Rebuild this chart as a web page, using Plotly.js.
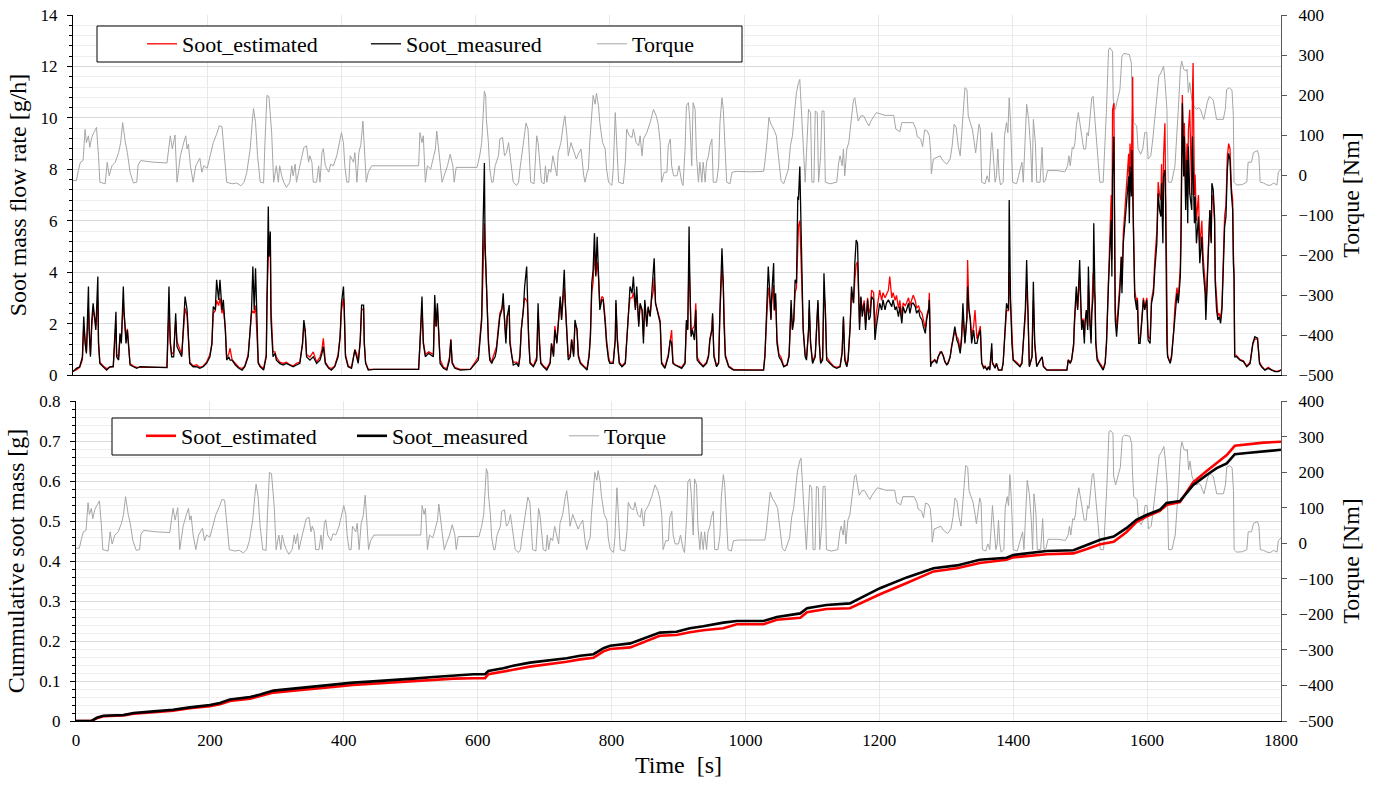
<!DOCTYPE html>
<html><head><meta charset="utf-8">
<script src="https://cdn.plot.ly/plotly-3.0.1.min.js"></script>
<style>html,body{margin:0;padding:0;background:#fff}#chart{width:1374px;height:791px}</style>
</head><body><div id="chart"></div>
<script>
// ---- Soot mass flow rate [g/h] (top panel) ----
const tRate = [
0,5,10,14,16,18,20,23,24,26,
28,30,32,34,37,38,40,45,50,55,
60,64,65,68,70,72,75,76,79,81,
83,85,90,95,100,120,140,143,145,147,
150,153,155,162,165,167,170,172,174,179,
184,189,194,199,204,207,209,212,214,217,
219,222,224,227,229,232,234,237,242,247,
252,256,261,264,266,268,270,272,274,276,
279,284,288,289,291,292,294,295,298,301,
303,308,313,318,323,328,333,338,342,344,
346,348,353,358,363,368,371,373,376,381,
385,390,395,398,400,403,404,406,410,415,
420,423,425,428,430,433,434,436,440,448,
480,515,517,520,522,525,530,537,539,541,
543,545,547,552,557,561,563,565,569,577,
592,604,606,609,611,613,614,616,617,619,
621,624,626,629,631,634,636,639,641,643,
645,647,650,651,654,656,661,664,666,668,
671,673,676,677,679,681,686,691,693,695,
697,701,706,711,713,716,718,721,723,726,
728,731,732,734,736,738,741,743,746,748,
751,753,756,761,766,769,771,773,775,777,
779,781,783,785,788,790,793,795,798,800,
805,808,809,811,814,818,823,825,828,830,
833,835,838,840,843,845,848,850,852,855,
857,860,862,865,866,868,870,872,875,877,
882,887,890,892,894,897,902,907,912,914,
916,918,919,921,923,926,928,930,934,939,
944,947,949,952,953,955,959,962,964,966,
967,969,970,972,977,984,1009,1029,1031,1034,
1036,1038,1040,1041,1044,1045,1047,1049,1052,1055,
1059,1064,1067,1070,1072,1074,1076,1078,1080,1081,
1083,1085,1086,1088,1091,1093,1096,1097,1099,1102,
1106,1108,1110,1112,1114,1117,1119,1121,1123,1128,
1133,1138,1143,1146,1148,1150,1153,1155,1158,1160,
1163,1165,1167,1169,1170,1172,1174,1176,1179,1181,
1184,1186,1188,1190,1193,1195,1197,1200,1202,1205,
1207,1210,1212,1215,1217,1220,1222,1225,1227,1230,
1232,1235,1237,1240,1242,1245,1247,1250,1252,1255,
1257,1260,1262,1265,1267,1270,1272,1275,1276,1278,
1279,1282,1284,1287,1289,1292,1294,1297,1299,1302,
1304,1307,1309,1312,1314,1317,1319,1322,1324,1326,
1328,1329,1332,1333,1335,1337,1339,1342,1344,1347,
1349,1352,1354,1357,1359,1362,1364,1366,1369,1370,
1374,1376,1379,1384,1386,1389,1391,1394,1395,1397,
1399,1401,1406,1411,1414,1416,1419,1421,1423,1425,
1429,1431,1433,1436,1441,1444,1446,1451,1466,1481,
1483,1486,1488,1491,1492,1494,1495,1497,1498,1500,
1502,1503,1505,1507,1508,1510,1512,1513,1515,1517,
1518,1520,1521,1523,1524,1526,1529,1533,1535,1538,
1540,1543,1545,1547,1548,1549,1551,1552,1553,1555,
1558,1560,1562,1563,1565,1568,1570,1573,1574,1575,
1577,1578,1579,1580,1582,1585,1586,1588,1590,1592,
1595,1597,1600,1602,1605,1607,1610,1612,1615,1617,
1619,1621,1622,1624,1625,1627,1628,1630,1631,1633,
1635,1637,1640,1642,1645,1647,1650,1651,1653,1655,
1656,1658,1660,1661,1662,1664,1667,1668,1669,1671,
1672,1674,1677,1679,1682,1684,1687,1688,1690,1692,
1694,1696,1697,1699,1701,1702,1704,1706,1708,1710,
1712,1714,1716,1718,1720,1722,1724,1726,1728,1729,
1730,1731,1734,1739,1744,1749,1754,1758,1761,1765,
1768,1771,1776,1781,1786,1791,1796,1800];
const rateMeas = [
0.13,0.26,0.32,0.70,2.27,1.23,0.84,3.44,1.75,0.71,
2.14,2.79,2.27,1.75,3.83,1.23,0.45,0.32,0.19,0.32,
0.32,2.46,0.71,0.58,1.62,1.23,3.44,2.53,1.23,1.75,
0.84,0.39,0.32,0.26,0.32,0.30,0.29,3.44,1.23,0.71,
0.71,2.40,1.10,0.71,2.14,3.05,2.53,1.23,0.45,0.32,
0.32,0.26,0.32,0.45,0.71,1.23,2.66,2.53,3.70,2.92,
3.70,2.53,2.92,1.75,0.58,0.71,0.58,0.58,0.39,0.26,
0.19,0.32,0.71,1.75,2.53,4.22,2.53,4.15,1.62,0.45,
0.32,0.19,0.71,3.57,6.55,4.60,5.58,2.14,0.71,0.84,
0.58,0.45,0.39,0.45,0.39,0.32,0.39,0.45,1.23,2.14,
1.75,0.71,0.58,0.71,0.45,0.58,0.84,1.10,0.45,0.26,
0.19,0.32,0.71,1.49,2.79,3.44,2.79,0.71,0.32,0.26,
0.97,0.71,0.45,1.36,2.72,2.72,1.23,0.45,0.19,0.22,
0.22,0.22,1.23,3.05,1.23,0.71,0.84,0.71,3.11,1.88,
2.79,1.36,0.45,0.26,0.19,0.58,1.36,0.45,0.26,0.19,
0.22,0.58,1.23,2.14,5.77,8.24,5.12,3.44,2.01,1.23,
0.58,0.45,0.58,0.71,0.97,1.75,2.27,2.53,3.18,2.14,
1.23,2.27,2.72,1.23,0.58,0.39,0.45,0.32,0.71,1.75,
2.53,3.44,4.22,3.05,1.36,0.45,0.32,0.58,2.79,1.23,
0.45,0.32,0.19,0.45,1.23,0.71,1.75,1.23,2.14,3.05,
2.14,3.83,4.09,2.53,1.23,0.58,0.71,1.36,0.71,2.14,
1.75,0.71,0.45,0.32,0.19,0.71,1.49,3.57,4.09,5.51,
3.83,5.38,3.83,2.53,2.92,2.92,2.01,1.23,0.58,0.45,
0.45,1.36,2.92,1.36,0.45,0.32,0.45,1.49,2.53,3.44,
3.18,3.83,2.53,3.44,1.88,2.79,2.53,1.23,2.92,1.88,
2.66,2.27,3.05,3.83,4.54,2.79,2.53,2.40,2.01,0.45,
0.26,0.71,1.36,1.23,0.45,0.39,0.32,0.26,0.45,2.14,
1.75,5.77,3.83,1.49,1.75,1.36,2.53,0.58,0.45,0.32,
0.45,0.71,1.36,1.75,2.40,0.71,0.32,0.45,2.53,3.83,
4.93,3.57,2.01,0.71,0.32,0.19,0.19,0.19,0.71,2.53,
4.22,3.31,2.14,3.05,4.35,2.53,3.18,1.23,0.71,0.58,
0.32,0.39,0.71,2.92,1.75,2.14,3.70,3.57,6.94,6.81,
8.11,4.86,3.83,1.75,0.71,0.58,1.75,2.92,1.23,0.45,
0.71,2.01,2.92,1.23,0.45,0.58,3.96,2.53,0.58,0.45,
0.32,0.26,0.32,0.84,2.27,0.58,0.32,0.58,1.88,3.44,
2.79,4.35,5.25,5.12,3.83,1.75,3.05,2.27,2.79,1.75,
2.92,2.14,2.27,3.05,2.92,1.36,1.88,2.53,2.79,2.53,
2.92,2.53,2.79,2.92,2.79,2.66,2.92,2.53,2.66,2.27,
2.66,2.01,2.66,2.40,2.53,2.79,2.40,2.79,2.79,2.66,
2.40,2.53,2.27,2.14,1.88,1.62,2.14,2.53,2.92,0.32,
0.45,0.52,0.58,0.45,0.71,0.84,0.91,0.71,0.52,0.39,
0.45,0.71,1.10,1.49,1.88,1.36,1.23,0.84,1.36,2.79,
1.49,1.23,2.27,3.44,2.53,2.14,1.23,1.75,1.23,1.23,
1.49,1.75,0.45,0.26,0.32,0.19,0.32,0.19,1.23,0.45,
0.26,0.45,0.19,0.19,0.45,1.75,2.79,2.53,6.81,2.92,
1.23,0.58,0.45,0.32,0.45,1.23,2.53,4.47,2.53,0.32,
0.71,3.63,1.23,0.32,0.58,0.71,0.32,0.19,0.19,0.19,
0.58,0.45,0.58,1.23,2.01,2.92,3.44,2.53,3.05,4.47,
2.53,1.75,2.14,1.23,2.01,2.53,1.75,4.22,2.14,1.23,
2.40,3.05,5.90,3.18,1.23,0.58,0.45,0.32,0.19,0.45,
1.23,3.57,5.12,6.03,3.83,7.72,9.27,5.12,2.14,1.49,
2.53,3.31,4.60,3.18,5.12,6.16,6.68,7.72,5.90,8.11,
6.94,8.75,7.20,5.77,3.05,2.53,2.92,1.23,1.23,1.88,
2.92,2.53,2.92,1.36,1.23,2.79,3.18,4.09,5.12,7.07,
6.42,6.16,7.46,5.12,7.72,7.98,6.68,1.23,0.71,0.58,
0.45,0.71,1.62,2.53,3.18,2.79,3.83,5.12,10.57,7.72,
9.27,6.42,8.37,5.90,8.89,7.07,6.42,9.27,8.37,5.90,
6.94,5.12,6.16,4.35,5.38,4.09,3.18,2.14,3.57,4.86,
6.42,5.12,7.46,7.20,6.16,3.57,2.53,2.14,2.27,2.01,
2.53,4.09,5.77,6.16,7.98,8.62,8.37,7.07,6.42,4.35,
3.83,0.71,0.71,0.58,0.52,0.32,0.45,1.23,1.49,1.43,
0.45,0.32,0.19,0.26,0.19,0.13,0.13,0.19];
const rateEst = [
0.15,0.20,0.30,0.60,1.90,1.30,0.90,2.60,1.80,0.80,
1.90,2.50,2.30,1.90,2.90,1.30,0.50,0.35,0.25,0.30,
0.35,2.00,0.80,0.70,1.50,1.30,2.90,2.40,1.40,1.80,
0.90,0.45,0.35,0.30,0.30,0.30,0.30,2.50,1.30,0.80,
0.90,2.10,1.30,0.80,2.00,2.60,2.30,1.30,0.50,0.35,
0.40,0.30,0.35,0.50,0.80,1.20,2.40,2.50,2.90,2.70,
3.00,2.40,2.60,1.80,0.70,0.80,1.04,0.60,0.45,0.30,
0.25,0.35,0.80,1.70,2.40,2.50,2.40,2.70,1.70,0.50,
0.35,0.25,0.80,3.00,4.50,5.00,5.40,2.60,0.90,0.90,
0.70,0.50,0.45,0.50,0.40,0.35,0.45,0.50,1.20,1.90,
1.70,0.80,0.70,0.90,0.50,0.70,1.00,1.43,0.50,0.30,
0.25,0.35,0.80,1.50,2.50,3.00,2.60,0.80,0.35,0.30,
1.00,0.80,0.50,1.30,2.50,2.60,1.30,0.50,0.22,0.22,
0.24,0.22,1.20,2.60,1.30,0.80,0.90,0.80,2.70,1.90,
2.60,1.40,0.60,0.30,0.25,0.70,1.40,0.50,0.30,0.22,
0.22,0.70,1.40,2.30,4.00,5.90,5.00,3.60,2.20,1.40,
0.70,0.50,0.70,0.90,1.10,1.90,2.40,2.60,2.80,2.20,
1.40,2.30,2.40,1.40,0.70,0.50,0.50,0.40,0.80,1.80,
2.50,3.00,2.90,2.80,1.50,0.50,0.35,0.70,2.40,1.30,
0.50,0.35,0.25,0.50,1.20,0.80,1.90,1.30,2.10,2.90,
2.20,3.10,3.40,2.60,1.30,0.70,0.80,1.40,0.80,2.00,
1.80,0.80,0.50,0.35,0.25,0.80,1.60,3.20,3.60,4.80,
3.90,4.40,3.80,2.70,3.05,3.00,2.20,1.40,0.70,0.50,
0.50,1.40,2.80,1.50,0.50,0.35,0.50,1.50,2.50,3.00,
3.00,3.20,2.60,3.10,2.00,2.70,2.50,1.50,2.80,2.00,
2.60,2.30,2.90,3.30,3.80,2.80,2.60,2.40,2.10,0.50,
0.30,0.80,1.50,1.75,0.50,0.40,0.35,0.30,0.50,2.00,
1.80,4.50,3.60,1.60,1.80,1.90,2.79,0.70,0.50,0.35,
0.50,0.80,1.40,1.80,2.30,0.80,0.35,0.50,2.40,3.40,
4.20,3.40,2.10,0.80,0.35,0.22,0.20,0.20,0.80,2.30,
3.40,3.00,2.20,2.80,3.50,2.50,2.90,1.40,0.80,0.70,
0.35,0.40,0.80,2.60,1.80,2.10,3.20,3.40,5.60,5.80,
6.00,4.50,3.60,1.80,0.80,0.70,1.70,2.60,1.30,0.50,
0.80,2.00,2.80,1.30,0.50,0.70,3.20,2.60,0.70,0.50,
0.35,0.30,0.35,0.90,2.20,0.70,0.35,0.70,1.90,3.20,
2.80,3.70,4.30,4.40,3.80,2.00,3.00,2.50,2.90,2.00,
3.00,2.40,2.60,3.30,3.20,1.80,2.40,3.00,3.30,2.90,
3.20,3.00,3.10,3.30,3.83,3.00,3.20,2.90,3.10,2.60,
2.90,2.30,2.80,2.70,2.80,3.00,2.70,2.90,3.10,2.90,
2.60,2.70,2.50,2.40,2.10,1.80,2.30,2.60,3.20,0.40,
0.50,0.55,0.60,0.50,0.70,0.90,0.90,0.75,0.55,0.40,
0.50,0.70,1.10,1.40,1.70,1.50,1.40,1.00,1.50,2.30,
1.60,1.30,2.20,4.47,2.60,2.20,1.50,1.90,2.53,1.40,
1.60,1.90,0.50,0.30,0.35,0.20,0.30,0.22,1.00,0.50,
0.30,0.45,0.20,0.20,0.50,1.60,2.50,2.50,4.00,2.80,
1.30,0.60,0.50,0.35,0.50,1.20,2.30,3.50,2.50,0.35,
0.70,2.90,1.30,0.35,0.60,0.70,0.35,0.20,0.20,0.20,
0.60,0.50,0.60,1.10,1.80,2.70,3.20,2.60,2.90,3.80,
2.60,1.90,2.20,1.50,2.10,2.50,1.90,3.50,2.30,1.40,
2.40,3.96,3.40,3.00,1.40,0.70,0.50,0.35,0.22,0.50,
1.30,3.80,5.60,7.00,4.50,10.30,10.57,6.00,2.50,1.80,
2.80,3.60,4.60,3.50,5.50,6.80,7.50,8.60,6.50,9.00,
8.00,9.79,11.60,6.00,3.30,2.80,3.00,1.40,1.40,2.00,
3.00,2.60,3.00,1.50,1.40,2.90,3.40,4.50,5.60,7.50,
7.00,6.80,8.20,6.00,8.50,9.79,7.20,1.50,0.80,0.60,
0.50,0.80,1.70,2.70,3.40,3.00,4.20,6.00,10.89,8.50,
9.80,7.30,9.00,7.00,9.50,10.31,7.00,10.83,12.13,7.00,
7.80,6.00,7.00,5.00,6.00,4.60,3.60,2.50,4.00,5.20,
6.40,5.20,7.00,6.80,6.00,3.80,2.80,2.30,2.40,2.20,
2.70,4.40,6.20,6.60,8.50,9.00,8.80,7.30,6.80,4.80,
4.00,0.80,0.75,0.60,0.55,0.35,0.50,1.20,1.40,1.40,
0.50,0.35,0.20,0.30,0.20,0.15,0.15,0.20];

// ---- Torque [Nm] (both panels) ----
const tTorque = [
0,5,8,11,15,18,20,23,25,28,
31,35,38,40,48,51,54,58,63,68,
71,74,78,81,85,90,95,97,101,120,
140,143,145,148,152,155,160,165,168,170,
172,175,179,183,189,192,195,200,204,209,
214,218,222,225,229,237,244,250,255,259,
264,267,269,272,275,279,284,286,289,292,
294,296,299,303,306,308,311,314,318,323,
326,328,331,333,338,341,344,348,351,353,
356,358,363,366,368,371,373,376,381,384,
388,393,397,400,403,405,408,411,413,418,
420,423,426,429,432,434,437,440,445,515,
517,520,522,525,528,533,537,540,542,545,
547,550,553,558,562,566,568,571,602,606,
609,611,613,615,616,619,621,624,626,629,
634,636,640,643,646,649,651,654,656,661,
664,666,671,675,678,680,682,687,691,693,
696,698,702,704,706,709,712,715,718,721,
723,727,731,733,736,738,742,747,750,753,
757,761,763,766,768,770,773,775,778,780,
783,785,789,793,795,798,803,805,808,810,
813,820,823,825,829,833,835,839,843,845,
848,850,855,860,865,869,872,875,877,881,
885,887,890,892,895,900,903,907,909,912,
914,917,919,922,924,927,929,932,934,937,
939,942,944,947,949,952,954,959,962,964,
967,969,972,974,979,982,989,1009,1029,1031,
1034,1037,1040,1044,1048,1050,1052,1055,1059,1063,
1066,1069,1072,1076,1078,1081,1083,1084,1086,1088,
1091,1093,1096,1099,1101,1104,1106,1109,1111,1114,
1116,1119,1121,1128,1138,1141,1143,1146,1148,1150,
1153,1156,1159,1163,1165,1168,1170,1174,1178,1183,
1186,1189,1195,1197,1210,1223,1226,1232,1235,1252,
1256,1258,1263,1266,1269,1273,1276,1278,1279,1282,
1292,1296,1302,1307,1310,1313,1316,1319,1322,1324,
1327,1329,1332,1334,1337,1340,1343,1345,1348,1350,
1352,1354,1359,1362,1365,1367,1369,1371,1374,1376,
1378,1380,1382,1386,1388,1391,1393,1395,1397,1400,
1406,1409,1414,1416,1419,1421,1424,1427,1429,1431,
1434,1436,1441,1444,1446,1449,1452,1466,1478,1482,
1484,1486,1489,1491,1493,1495,1498,1500,1503,1506,
1509,1511,1513,1516,1518,1520,1523,1525,1528,1530,
1535,1538,1540,1543,1545,1549,1550,1553,1556,1560,
1563,1566,1574,1577,1578,1580,1585,1587,1591,1594,
1597,1600,1602,1606,1609,1612,1616,1618,1621,1625,
1627,1630,1632,1637,1642,1645,1647,1650,1652,1655,
1659,1660,1662,1664,1667,1670,1674,1677,1680,1683,
1685,1688,1690,1693,1696,1699,1702,1704,1714,1717,
1719,1723,1727,1729,1730,1734,1742,1749,1751,1756,
1759,1765,1767,1769,1774,1779,1784,1789,1794,1796,
1800];
const torque = [
-14,-14,11,32,36,114,81,98,69,94,
106,119,48,-18,-22,32,-2,23,32,56,
81,131,81,56,7,-20,-18,25,36,32,
30,81,98,65,100,-18,48,81,98,65,
77,23,-18,23,42,7,23,17,48,81,
102,123,121,65,-18,-22,-20,-27,-18,7,
65,131,166,131,48,-18,-20,81,199,196,
139,106,-18,23,-18,23,-2,-18,-31,-18,
23,-2,27,-18,23,48,69,73,32,48,
32,-18,-18,23,-18,56,66,23,7,27,
23,48,77,106,81,23,-18,-18,48,32,
56,-18,56,77,135,65,-18,7,23,23,
106,81,98,-18,23,15,48,65,110,56,
32,-18,-2,23,52,23,-18,19,19,48,
81,164,210,197,139,81,15,-18,-18,23,
48,90,94,48,56,81,48,15,-18,-26,
-18,15,81,130,115,40,-18,-22,98,81,
15,-18,-22,23,-18,15,7,48,23,-2,
56,81,131,148,98,48,81,56,40,52,
65,-2,-18,6,15,81,148,199,177,204,
173,131,81,65,15,-18,-26,15,156,98,
-18,-22,32,115,98,94,115,81,73,98,
48,90,106,131,164,148,127,81,-18,7,
7,73,90,23,-2,-2,23,-18,-26,65,
173,181,139,23,181,164,48,-18,32,-18,
32,-18,32,48,73,90,-18,-18,23,131,
193,164,40,-18,-22,7,9,8,9,32,
81,144,127,115,98,65,23,-14,-22,-2,
15,73,98,173,206,231,239,206,148,65,
-18,56,164,156,-18,-18,160,156,-18,48,
160,160,-18,-22,-18,32,48,23,65,-2,
65,81,131,189,193,164,135,148,148,131,
123,135,149,156,149,149,115,108,131,131,
115,96,90,71,113,110,98,56,3,40,
48,36,27,40,73,127,119,73,48,90,
164,218,214,148,131,115,81,55,98,127,
115,-18,-22,-2,-18,65,106,56,-18,-2,
65,-2,-25,-18,98,131,106,193,131,-18,
-22,-2,32,-18,98,177,139,65,-18,139,
81,-18,-18,69,-18,-14,11,11,8,23,
48,23,69,65,81,123,156,131,94,65,
65,106,98,164,193,197,139,90,23,-18,
-18,81,164,313,318,309,189,164,185,214,
297,304,301,280,206,131,123,65,52,65,
106,106,40,48,90,148,206,247,255,272,
239,164,-18,-18,23,98,164,264,285,264,
260,264,206,231,189,173,164,168,164,148,
139,164,181,196,193,187,156,139,139,164,
214,218,212,148,-18,-25,-24,-18,32,32,
56,61,48,-18,-20,-25,-26,-20,-25,7,
15];

// ---- Cumulative soot mass [g] (bottom panel) ----
const tCum = [
0,23,31,41,71,86,116,145,170,200,
215,230,260,275,295,325,355,384,414,444,
474,504,534,564,594,611,616,638,653,678,
708,733,753,773,788,798,828,848,872,897,
917,937,967,987,1027,1047,1082,1092,1121,1156,
1176,1201,1241,1281,1316,1350,1390,1400,1450,1490,
1510,1530,1550,1569,1584,1599,1619,1629,1649,1669,
1689,1704,1719,1731,1749,1774,1800];
const cumMeas = [
0,0,0.008,0.013,0.015,0.02,0.024,0.028,0.034,0.04,
0.045,0.054,0.06,0.066,0.076,0.081,0.085,0.09,0.096,0.099,
0.102,0.106,0.11,0.114,0.117,0.117,0.125,0.132,0.138,0.146,
0.151,0.157,0.163,0.167,0.182,0.188,0.194,0.207,0.221,0.223,
0.232,0.237,0.246,0.25,0.25,0.26,0.269,0.282,0.29,0.294,
0.311,0.332,0.359,0.382,0.389,0.403,0.408,0.415,0.425,0.427,
0.44,0.453,0.461,0.482,0.503,0.515,0.528,0.545,0.55,0.59,
0.615,0.632,0.644,0.667,0.67,0.674,0.678];
const cumEst = [
0,0,0.007,0.012,0.014,0.018,0.022,0.026,0.032,0.037,
0.042,0.05,0.056,0.062,0.071,0.076,0.08,0.085,0.09,0.093,
0.096,0.1,0.103,0.106,0.107,0.107,0.117,0.123,0.128,0.136,
0.142,0.148,0.154,0.158,0.174,0.18,0.184,0.198,0.213,0.215,
0.222,0.227,0.232,0.242,0.242,0.253,0.258,0.272,0.28,0.282,
0.298,0.317,0.345,0.374,0.382,0.395,0.403,0.409,0.417,0.419,
0.43,0.442,0.448,0.472,0.497,0.511,0.525,0.54,0.547,0.597,
0.625,0.644,0.665,0.688,0.692,0.696,0.698];

const timeTicks = [0,200,400,600,800,1000,1200,1400,1600,1800];
const cumTicks = [0,0.1,0.2,0.3,0.4,0.5,0.6,0.7,0.8];
const cumTickText = ['0','0.1','0.2','0.3','0.4','0.5','0.6','0.7','0.8'];
const seriesNames = ['Soot_estimated','Soot_measured','Torque'];

const FONT = '"Liberation Serif", "Times New Roman", Times, serif';
const W = 1374, H = 791;
const px = v => v / W, py = v => 1 - v / H;

const traces = [
  {x:tTorque, y:torque, xaxis:'x', yaxis:'y', type:'scatter', mode:'lines', name:seriesNames[2],
   line:{color:'#a6a6a6', width:1}, legend:'legend3'},
  {x:tRate, y:rateEst, xaxis:'x', yaxis:'y2', type:'scatter', mode:'lines', name:seriesNames[0],
   line:{color:'#ff0000', width:1.3}, legend:'legend'},
  {x:tRate, y:rateMeas, xaxis:'x', yaxis:'y2', type:'scatter', mode:'lines', name:seriesNames[1],
   line:{color:'#000000', width:1.3}, legend:'legend2'},
  {x:tTorque, y:torque, xaxis:'x2', yaxis:'y3', type:'scatter', mode:'lines', name:seriesNames[2],
   line:{color:'#a6a6a6', width:1}, legend:'legend6'},
  {x:tCum, y:cumEst, xaxis:'x2', yaxis:'y4', type:'scatter', mode:'lines', name:seriesNames[0],
   line:{color:'#ff0000', width:2.6}, legend:'legend4'},
  {x:tCum, y:cumMeas, xaxis:'x2', yaxis:'y4', type:'scatter', mode:'lines', name:seriesNames[1],
   line:{color:'#000000', width:2.6}, legend:'legend5'}
];

const tickFont = {family:FONT, size:17, color:'#000'};
const titleFont = {family:FONT, size:24, color:'#000'};
const legFont = {family:FONT, size:22, color:'#000'};
function leg(x, y){
  return {x:px(x), y:py(y), xanchor:'left', yanchor:'middle', orientation:'h',
    bgcolor:'rgba(0,0,0,0)', borderwidth:0, font:legFont, itemwidth:30};
}
const xBase = {range:[0,1800], tickvals:timeTicks, showgrid:true, gridcolor:'#e8e8e8', gridwidth:1,
  zeroline:false, showline:true, linecolor:'#000', linewidth:1, ticks:'', fixedrange:true};
const torqueAxis = {range:[-500,400], dtick:100, tick0:0, side:'right', showgrid:false, zeroline:false,
  showline:true, linecolor:'#595959', linewidth:1, ticks:'outside', ticklen:5, tickcolor:'#595959',
  tickfont:tickFont, ticklabelstandoff:8,
  title:{text:'Torque [Nm]', font:titleFont, standoff:9}};

const layout = {
  width:W, height:H, margin:{l:0,r:0,t:0,b:0}, paper_bgcolor:'#fff', plot_bgcolor:'rgba(0,0,0,0)',
  font:{family:FONT, color:'#000'},
  xaxis: Object.assign({}, xBase, {domain:[px(73), px(1281)], anchor:'y', showticklabels:false}),
  yaxis: Object.assign({}, torqueAxis, {domain:[py(375), py(15)], anchor:'x'}),
  yaxis2: {overlaying:'y', side:'left', anchor:'x', range:[0,14], dtick:2, tick0:0,
    showgrid:true, gridcolor:'#d9d9d9', zeroline:false, showline:true, linecolor:'#000', linewidth:1,
    ticks:'outside', ticklen:5, tickcolor:'#000', tickfont:tickFont, ticklabelstandoff:6,
    minor:{dtick:0.4, ticks:'outside', ticklen:3, tickcolor:'#000', showgrid:true, gridcolor:'#efefef'},
    title:{text:'Soot mass flow rate [g/h]', font:titleFont, standoff:7}},
  xaxis2: Object.assign({}, xBase, {domain:[px(76), px(1281)], anchor:'y3', showticklabels:true,
    ticktext:timeTicks.map(String), tickfont:tickFont, ticklabelstandoff:4,
    title:{text:'Time  [s]', font:titleFont, standoff:6}}),
  yaxis3: Object.assign({}, torqueAxis, {domain:[py(721), py(401)], anchor:'x2'}),
  yaxis4: {overlaying:'y3', side:'left', anchor:'x2', range:[0,0.8], tickvals:cumTicks, ticktext:cumTickText,
    showgrid:true, gridcolor:'#d9d9d9', zeroline:false, showline:true, linecolor:'#000', linewidth:1,
    ticks:'outside', ticklen:5, tickcolor:'#000', tickfont:tickFont, ticklabelstandoff:6,
    minor:{dtick:0.02, ticks:'outside', ticklen:3, tickcolor:'#000', showgrid:true, gridcolor:'#efefef'},
    title:{text:'Cummulative soot mass [g]', font:titleFont, standoff:7}},
  legend: leg(142, 44),
  legend2: leg(366, 44),
  legend3: leg(592, 44),
  legend4: leg(141, 436),
  legend5: leg(352, 436),
  legend6: leg(564, 436),
  shapes:[
    {type:'rect', xref:'paper', yref:'paper', x0:px(97), x1:px(742), y0:py(62), y1:py(26),
     line:{color:'#000', width:1}, fillcolor:'#fff', layer:'above'},
    {type:'rect', xref:'paper', yref:'paper', x0:px(112), x1:px(702), y0:py(455), y1:py(418),
     line:{color:'#000', width:1}, fillcolor:'#fff', layer:'above'}
  ],
  showlegend:true
};

Plotly.newPlot('chart', traces, layout, {displayModeBar:false, staticPlot:true});
</script>
</body></html>
